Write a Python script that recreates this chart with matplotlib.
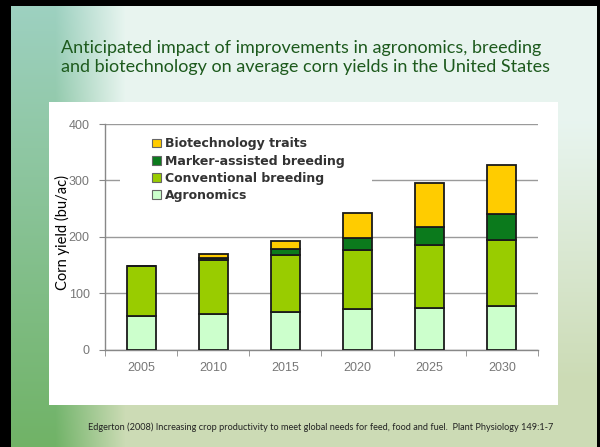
import numpy as np
import matplotlib
matplotlib.use('Agg')
import matplotlib.pyplot as plt
from matplotlib.patches import Rectangle, Patch

# Data (bu/ac)
years = ['2005', '2010', '2015', '2020', '2025', '2030']
agronomics = [59, 63, 67, 71, 73, 78]
conventional = [89, 95, 101, 105, 113, 116]
marker_assisted = [0, 5, 11, 22, 32, 47]
biotech = [0, 7, 13, 45, 78, 86]
series_names = ['Agronomics', 'Conventional breeding',
                'Marker-assisted breeding', 'Biotechnology traits']
series_colors = ['#ccffcc', '#99cc00', '#0b7a1c', '#ffcc00']

title = ("Anticipated impact of improvements in agronomics, breeding\n"
         "and biotechnology on average corn yields in the United States")
citation = ("Edgerton (2008) Increasing crop productivity to meet global needs "
            "for feed, food and fuel.  Plant Physiology 149:1-7")

W, H = 600, 447
fig = plt.figure(figsize=(6, 4.47), dpi=100)

# slide background (gradient, greener leaf strip on the left)
bg = fig.add_axes([0, 0, 1, 1])
yy, xx = np.mgrid[0:H, 0:W].astype(float)
top_c = np.array([0.91, 0.96, 0.94])
bot_c = np.array([0.80, 0.86, 0.71])
t = np.clip((yy - 120) / 260, 0, 1)[..., None]
img = top_c * (1 - t) + bot_c * t
leaf_top = np.array([0.62, 0.82, 0.76])
leaf_bot = np.array([0.44, 0.70, 0.40])
lt = np.clip(yy / H, 0, 1)[..., None]
leaf = leaf_top * (1 - lt) + leaf_bot * lt
s = np.clip((125 - xx) / 70, 0, 1)[..., None]
img = img * (1 - s) + leaf * s
bg.imshow(img, extent=[0, W, H, 0], aspect='auto')
bg.set_xlim(0, W)
bg.set_ylim(H, 0)
bg.axis('off')

# black slide border
for r in [(0, 0, 11, H), (0, 0, W, 6), (597, 0, 3, H)]:
    bg.add_patch(Rectangle((r[0], r[1]), r[2], r[3], color='black', lw=0))
# white chart panel
bg.add_patch(Rectangle((49, 102), 509, 303, color='white', lw=0))

fig.text(61 / W, 1 - 40 / H, title, color='#1d5a1d', fontsize=13.0,
         family='Lato', ha='left', va='top', linespacing=1.25)
fig.text(321 / W, 1 - 427 / H, citation, color='#222222', fontsize=6.6,
         family='Lato', ha='center', va='center')
fig.text(62 / W, 1 - 232 / H, 'Corn yield (bu/ac)', color='black', fontsize=10.5,
         family='Lato', rotation=90, ha='center', va='center')

# chart
ax = fig.add_axes([105 / W, 1 - 349.5 / H, 433 / W, 225.5 / H])
ax.patch.set_alpha(0)
x = np.arange(len(years))
bottom = np.zeros(len(years))
handles = []
for vals, name, col in zip([agronomics, conventional, marker_assisted, biotech],
                           series_names, series_colors):
    ax.bar(x, vals, 0.4, bottom=bottom, color=col, edgecolor='#1a1a1a',
           linewidth=1.3, zorder=3)
    bottom += np.array(vals)
    handles.append(Patch(facecolor=col, edgecolor='#666666', linewidth=0.8, label=name))

ax.set_xlim(-0.5, 5.5)
ax.set_ylim(0, 400)
ax.set_yticks([0, 100, 200, 300, 400])
ax.set_xticks(x)
ax.set_xticklabels(years)
ax.set_xticks(np.arange(-0.5, 6, 1), minor=True)
ax.tick_params(axis='x', which='major', length=0, pad=9)
ax.tick_params(axis='x', which='minor', length=4, color='#888888')
ax.tick_params(axis='y', length=4, color='#888888', pad=7)
for lab in ax.get_xticklabels() + ax.get_yticklabels():
    lab.set_color('#777777')
    lab.set_fontsize(9)
    lab.set_family('Liberation Sans')
ax.grid(axis='y', color='#9a9a9a', linewidth=1.0, zorder=0)
ax.set_axisbelow(True)
for sp in ['top', 'right']:
    ax.spines[sp].set_visible(False)
for sp in ['left', 'bottom']:
    ax.spines[sp].set_color('#888888')
    ax.spines[sp].set_linewidth(1.0)

# white legend area hiding the grid (as in the original Excel chart)
ax.add_patch(Rectangle((15 / 433, (349.5 - 205) / 225.5), 252 / 433, 75 / 225.5,
                       transform=ax.transAxes, color='white', lw=0, zorder=1))
leg = ax.legend(handles=handles[::-1], loc='upper left',
                bbox_to_anchor=(0.085, 0.985), frameon=False,
                handlelength=0.7, handleheight=0.7, handletextpad=0.35,
                labelspacing=0.33, borderpad=0.3,
                prop={'family': 'DejaVu Sans', 'weight': 'bold', 'size': 9})
for t_ in leg.get_texts():
    t_.set_color('#333333')

fig.savefig('out.png', dpi=100)
